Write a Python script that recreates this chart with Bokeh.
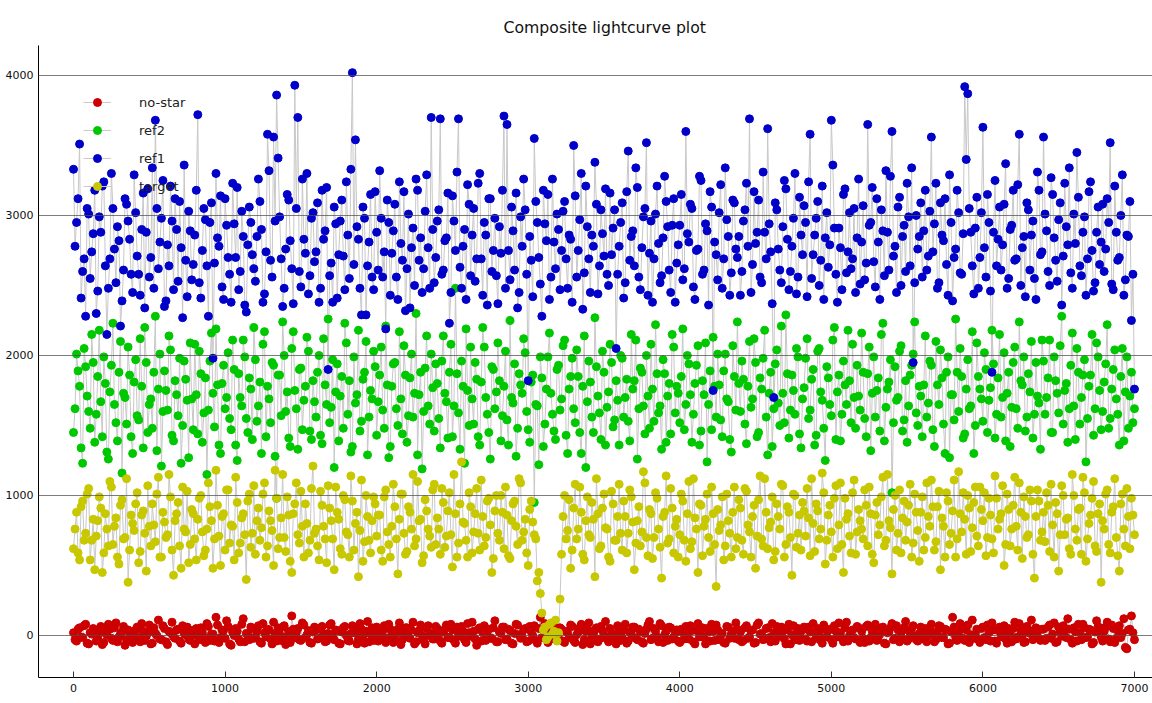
from bokeh.plotting import figure
from bokeh.models import Range1d, Legend, LegendItem, FixedTicker
from bokeh.embed import file_html
from bokeh.resources import INLINE

# The original light curves hold ~7000 frames each, far too dense to read one by one.
# Values below are estimates read off the picture, sampled every 10 frames:
# "a" lists at frames 0, 20, 40, ...  and "b" lists at frames 10, 30, 50, ...
a_start, b_start, step = 0, 10, 20

ref1_a = [
3330,2950,3510,2600,2280,3010,2740,3180,2460,2880,3240,2150,2690,3050,2520,2820,2390,3120,2960,2580,
3290,2710,2430,3160,2880,2560,3340,3680,2620,2980,2350,2790,3210,2470,2900,3100,2270,2680,3030,2540,
2860,3720,2410,3050,2640,2950,1980,3300,2780,2490,3120,2700,2380,2940,3200,2600,2850,2310,3060,2720,
2530,3260,2900,2440,3580,2680,3560,3860,2990,2350,2760,3110,2620,3930,3700,2490,2830,3300,2570,3020,
2740,2380,3180,2890,1900,2660,3060,2410,2960,2710,3240,2550,4020,3540,2830,2290,2980,2640,3150,2470,
2880,3320,2560,2190,2950,2730,3080,2400,2800,3170,2620,2340,2910,3260,2680,2450,3030,2770,3700,2520,
2960,3690,2610,2840,2230,3140,2750,3690,2480,2900,3220,2570,3050,2690,3300,2430,2860,3120,2600,2980,
2370,2730,3710,3650,2540,2890,3160,2450,2780,3040,1820,2680,3550,2950,2510,3180,2820,2400,3260,2620,
2900,2750,3100,2480,2830,3500,2560,2970,2330,3210,2690,2860,3380,2440,3040,2710,2580,3160,2910,2050,
2780,3090,2520,3460,2850,2640,3200,2470,2990,3520,2730,2380,3010,2800,2570,3280,2920,2450,3120,2660,
2930,2540,3600,2810,3050,2400,2760,3250,2610,2890,3170,1750,2720,3020,2480,3340,2850,2590,3090,2700,
2430,2960,3230,3690,2650,2800,3110,2520,2880,3620,2740,1700,3040,2610,2920,3190,2470,2780,3300,2560,
2860,3070,2420,3580,2720,2980,2500,3210,2840,2630,3680,2910,2380,2770,3150,2590,3020,2690,2450,3260,
2810,2540,3650,2950,2670,3120,2400,2890,3320,2610,3600,2780,3060,2500,2930,3230,2640,1950,3000,2850,
2560,3180,2710,3560,2940,2480,3090,2820,2650,3290,2390,2760,3020,2580,3920,3870,2880,2440,3130,2700,
3630,2560,2950,1880,3250,2830,2610,3080,2480,2900,3180,2690,3580,2770,2420,3040,2860,2550,3310,2720,
3560,2890,2500,3150,2680,2970,2360,3230,2790,2590,3010,3450,2640,2880,2430,3170,2750,2520,3060,2810,
2600,3120,3520,2470,2880,2700,3290,2540,2850,2250,1760]

ref1_b = [
2780,3120,2410,2690,3050,2550,2870,2300,2990,3210,2640,2480,3300,2760,2920,2210,2610,3080,2830,2450,
3020,2580,2900,2340,3190,2700,2480,3050,2810,3250,2390,2640,2960,3120,2530,2770,3360,2420,2890,2650,
3180,2520,2750,2970,2280,3090,2660,2840,3140,2400,2930,2580,3230,2700,2470,3030,2360,2790,2950,2620,
2850,3100,2380,2740,3320,2560,2960,3410,2690,2480,3150,2820,2370,3050,2600,3260,2730,2440,2980,2670,
3090,2480,2830,3200,2570,2380,2940,2720,3110,2470,2860,3330,2650,2920,2480,3060,2290,2810,2560,3170,
2610,2980,2740,3110,2430,2890,2560,3240,2680,2320,3010,2770,2500,3180,2840,2620,3290,2480,2900,2700,
3040,2580,2820,3160,2450,2960,3310,2630,2780,2400,3080,2860,2530,3230,2690,2950,2360,3120,2750,2570,
2920,3180,2480,2750,3060,2610,2340,2990,3260,2580,2850,2420,3100,2700,2280,2940,3150,2560,2810,3010,
2470,3030,2690,2860,2380,3140,2750,3300,2590,2920,2450,2780,3080,2640,2870,3190,2500,2720,3040,2580,
2950,2410,3170,2680,2890,3340,2560,2770,3050,2430,2960,2690,3210,2520,2840,3100,2610,2930,2380,2790,
3150,2620,2870,3080,2490,2750,3280,2580,2940,2360,3060,2810,2540,3220,2690,2970,2430,3110,2760,2850,
2600,3040,2780,2450,3170,2880,2560,3310,2690,2940,2370,3090,2760,2520,3250,2830,2600,2980,2440,3130,
2720,2950,3240,2550,2860,3100,2680,2400,3020,2790,3360,2580,2910,2470,3190,2740,2620,3050,2840,2510,
3070,2660,2930,3200,2490,2810,3040,2570,2880,3280,2710,2450,3130,2850,2600,2990,3340,2520,2760,3090,
2890,2610,3030,2740,3230,2520,2860,3120,2430,2950,2700,3180,2590,2870,3400,3050,2640,2910,2480,3020,
2770,3150,2460,2880,2640,3060,2790,3370,2550,2930,2680,3220,2500,2850,3090,2610,2960,2400,3180,2740,
3010,2600,3270,2840,2530,3090,2710,2920,3340,2480,2800,3130,2570,2990,2690,3240,2460,2880,2650,3080,
2760,2950,2510,3210,2680,3000,2430,2860,3100,2580]

ref2_a = [
1450,2010,1780,1230,1920,1600,2150,1380,1850,1670,1990,1310,1740,2230,1520,1880,1160,1700,2060,1420,
1810,1570,2120,1340,1950,1650,1480,2280,1760,1210,1890,1610,2040,1390,1720,1980,1500,1830,1270,1690,
2080,1440,1870,1590,1150,1960,1730,2190,1360,1800,1620,2020,1470,1900,1250,1700,2110,1550,1840,1400,
1970,1640,1300,2170,1780,1520,1930,980,1860,2240,1600,1410,2050,1750,1330,1910,1680,2130,1460,1820,
1560,2000,1370,1790,2260,1630,1200,1940,1710,1480,2090,1820,1350,1660,2180,1530,1880,1290,1750,2030,
1430,1860,1610,2210,1270,1780,1950,1500,1690,2070,1380,1840,1560,2300,1720,1190,1910,1640,2010,1460,
1800,1340,2140,1670,1880,1420,2480,1590,1960,1230,1750,2060,1510,1830,1360,2200,1700,1450,1920,1620,
2090,1390,1780,1540,2250,1660,1280,1870,1730,2020,1470,1810,950,1640,1990,1350,1760,2160,1580,1400,
1930,1690,2110,1300,1850,1620,2040,1450,1780,1200,1960,1560,2270,1710,1400,1880,1630,2080,1490,1820,
1360,1980,1700,1530,2150,1820,1260,1910,1640,2000,1480,1760,2220,1590,1330,1870,1710,1440,2060,1780,
1520,2190,1650,1940,1380,1800,2070,1460,1720,1240,1890,2130,1560,1790,1420,2010,1670,1310,1850,2240,
1600,1830,1370,2100,1690,1950,1450,1760,2180,1290,1880,1620,2040,1500,1730,2290,1410,1860,1580,1990,
1340,1770,2120,1610,1900,1430,2050,1680,1250,1840,1570,2200,1740,1390,1960,1650,1820,2080,1480,1710,
2160,1550,1870,1320,1990,1750,1460,2230,1630,1810,1020,1920,1700,2070,1540,1380,1860,2010,1590,1780,
1420,2140,1660,1930,1350,1790,2040,1510,1880,1270,1720,2260,1600,1850,1440,1970,1640,1300,2090,1760,
1530,1900,1680,2180,1410,1840,1560,2020,1730,1350,1950,1620,2240,1790,1460,1870,2100,1580,1710,1330,
1960,1700,2110,1450,1820,1590,2280,1750,1380,1930,1640,2050,1510,1860,1240,1780,2150,1620,1990,1470,
1810,2220,1550,1900,1690,1360,2050,1740,1480,1880,1620]

ref2_b = [
1620,1890,1340,2050,1710,1480,1950,1580,2180,1420,1800,1260,1930,1650,1390,2100,1730,1510,1860,1300,
1970,1540,1780,2200,1450,1690,1880,1320,2010,1600,1750,2140,1430,1820,1570,1230,1960,1680,2090,1470,
1720,2030,1380,1840,1610,2160,1490,1790,1300,1930,1700,1550,2110,1360,1870,1640,1990,1450,1760,2200,
1530,1810,2080,1420,1690,1950,1280,1860,1570,2000,1740,1350,2170,1620,1900,1470,1780,2030,1400,1670,
1880,1430,2120,1650,1520,1970,1740,1390,1850,2230,1580,1310,1990,1720,1460,1830,2100,1560,1690,1920,
1670,2060,1480,1790,1350,1940,1620,2170,1440,1860,1570,2010,1730,1290,1880,1600,2140,1510,1770,1940,
1550,1960,1730,1410,2080,1640,1870,1330,1780,2190,1500,1690,1950,1420,1810,2060,1580,1260,1900,1740,
1820,1570,2030,1360,1700,1940,1480,1790,2120,1600,1380,1860,1650,1220,1840,1510,1990,1730,1460,1900,
1610,2070,1430,1760,1980,1520,1850,1300,2140,1670,1810,1450,1920,1590,2030,1360,1740,1950,1540,1680,
2000,1560,1830,1390,1760,2110,1620,1880,1440,1710,2080,1530,1870,1640,1970,1380,1800,2150,1590,1730,
1850,1470,2000,1720,1580,1930,1360,1820,2090,1650,1470,1780,2010,1540,1890,1690,1400,2070,1610,1800,
1960,1510,1780,1630,2120,1420,1840,1980,1560,1730,1350,1940,1660,2210,1520,1870,1610,1750,2050,1440,
1690,1980,1550,1830,1360,2030,1740,1480,1920,1650,2110,1400,1860,1580,1790,2180,1520,1700,1930,1610,
1880,1420,2060,1730,1560,1840,2150,1390,1760,1970,1520,1680,2030,1460,1820,1640,1930,2240,1500,1710,
1790,1560,1960,1470,2100,1650,1840,1300,1990,1720,1540,1880,2050,1410,1760,1620,2170,1500,1850,1690,
2020,1450,1770,1940,1580,2150,1700,1390,1880,1630,2060,1480,1820,1990,1560,1740,1410,1950,1660,2110,
1580,1840,1450,1990,1730,2070,1510,1800,1620,2160,1400,1880,1700,1970,1550,1860,1430,2090,1750,1600,
1940,1480,1760,2040,1580,1850,1390,1990,1710,1520]

target_a = [
620,880,540,960,730,1050,680,470,820,910,590,760,1100,650,840,510,970,700,380,860,
750,1020,600,890,460,780,940,670,1130,560,810,720,990,430,870,640,1060,740,520,900,
690,830,1000,570,760,920,480,1180,710,850,610,1040,790,540,950,660,870,400,1010,730,
580,910,770,1090,640,820,500,980,700,1150,600,860,450,940,720,1030,560,800,680,1210,
760,540,930,690,1070,820,470,880,620,1000,740,560,960,800,420,1110,670,850,590,990,
710,860,530,1040,650,780,920,440,1010,730,600,880,1150,690,820,520,970,760,630,1080,
840,580,950,710,1020,490,870,660,1240,800,560,920,740,1050,610,850,700,980,450,890,
730,1000,620,860,550,940,780,1120,680,830,500,960,720,390,300,40,-30,80,10,110,
20,580,1000,750,480,910,690,1060,580,820,720,950,420,870,640,1010,760,530,940,680,
1080,610,850,730,990,470,820,640,1170,700,900,550,1020,760,410,880,660,1050,590,830,
720,960,530,1100,670,840,450,930,780,1010,600,870,350,750,990,640,820,560,1060,700,
910,580,1030,740,850,480,970,690,1120,620,810,540,940,760,1070,650,880,430,1000,730,
610,890,1050,570,800,940,690,1160,510,860,740,980,620,1090,450,830,710,1020,580,900,
760,1040,640,870,520,950,790,1130,680,820,440,1000,730,590,960,810,1080,660,880,530,
990,700,850,1110,610,920,470,780,1020,650,890,560,1170,740,830,1000,600,950,710,1060,
820,570,980,690,1140,760,870,500,1010,640,930,780,1090,550,850,720,960,410,1040,680,
880,1020,600,790,950,460,1070,720,840,580,1000,680,910,1130,530,800,980,640,870,380,
760,1040,590,920,700,460,1010,640,850,980,720]

target_b = [
760,590,920,680,1010,540,830,710,990,450,870,640,1060,780,560,930,690,1120,610,800,
940,520,860,730,1070,640,790,1010,560,880,700,1150,610,820,950,480,760,1030,650,870,
540,980,740,610,1090,820,690,930,500,870,1040,660,780,1130,590,840,720,960,630,1070,
820,680,1010,560,890,750,1180,620,840,700,990,530,870,1090,660,780,940,590,1050,730,
640,1030,780,520,910,690,1060,830,580,970,720,1140,610,880,750,530,1000,680,820,940,
860,610,990,740,560,1080,690,830,1010,580,920,760,640,1100,830,570,890,710,1040,650,
760,1050,630,890,720,1150,560,940,810,680,1020,590,870,730,1110,640,960,790,550,1000,
680,880,1060,570,820,960,650,1090,740,590,900,810,690,450,160,60,-10,90,30,-40,
260,850,690,970,610,1080,760,880,540,990,700,830,1120,620,910,770,560,1030,680,850,
730,960,590,1040,810,660,920,740,1090,570,870,700,980,630,850,1140,690,910,780,560,
1010,680,870,620,1120,760,940,570,830,700,1060,650,900,790,540,1010,730,880,620,970,
680,1050,790,560,930,710,1140,640,880,770,990,600,850,1080,560,920,700,1010,630,860,
950,710,840,1120,600,890,760,1020,680,930,560,1070,790,650,980,870,590,1110,740,820,
690,930,1060,580,860,720,990,640,1150,770,900,610,1040,840,680,930,560,1010,750,880,
610,1090,780,920,670,1030,840,560,960,730,1110,690,870,1020,580,910,770,1060,640,900,
1020,700,860,590,980,830,1070,650,900,760,1130,610,880,990,700,1040,580,850,960,740,
670,930,1080,560,870,720,1000,830,620,1150,760,900,580,1020,690,860,1100,600,940,820,
1010,650,880,1120,570,940,760,1050,620,860]

no_star_a = [
20,-40,55,-15,80,-60,10,35,-25,65,-50,5,45,-35,90,-10,25,-70,40,0,
-20,60,-45,30,-5,75,-55,15,110,-30,50,-65,20,-10,40,-40,70,5,-25,35,
-60,25,55,-15,85,-35,10,130,-50,40,-20,65,-70,0,30,-45,120,15,-30,50,
-10,70,-55,20,45,-25,95,-40,10,60,-65,30,140,-15,50,-35,75,5,-50,25,
40,-20,65,-45,15,85,-30,35,-60,55,0,-40,70,20,-25,45,-55,100,10,-35,
60,-10,30,-50,80,5,-30,45,-65,20,55,-20,95,-45,35,0,-60,70,15,-25,
50,-40,25,75,-15,40,-55,10,65,-30,85,-5,30,-70,55,20,-35,45,-20,105,
-45,15,60,-25,35,-60,80,5,-10,50,-40,25,70,-55,130,-15,40,-30,10,60,
-20,45,-50,20,75,-35,5,55,-65,30,90,-10,40,-45,65,0,-25,50,15,-60,
35,-15,80,-40,10,60,-30,25,-55,45,100,-20,30,-45,70,5,-35,55,-10,40,
-50,20,65,-25,35,-60,85,0,-15,50,-40,30,75,-30,15,-55,60,10,-20,45,
25,-35,70,-10,40,-50,90,15,-25,55,-45,20,65,-5,30,-60,80,5,-30,50,
-15,60,-40,25,85,-20,10,-55,45,35,-30,70,-10,20,-45,95,0,40,-25,55,
30,-50,75,-15,45,-35,10,60,-60,25,85,-20,40,-5,55,-40,20,70,-30,15,
-25,50,0,80,-45,30,65,-15,40,-55,130,-10,25,55,-35,75,5,-20,45,-50,
60,-30,20,90,-40,35,-10,70,-55,15,50,-25,85,0,-45,40,110,-15,30,-35,
45,-20,75,10,-50,60,-5,35,120,-30,55,-40,20,80,-15,45,-60,25,65,-10,
30,95,-45,50,-20,70,15,-85,40,140,-30]

no_star_b = [
-30,45,-10,70,-55,20,50,-40,15,-65,35,80,-20,55,-45,10,65,-30,25,-50,
40,-15,85,-35,20,-60,55,0,-25,70,-45,30,95,-20,45,-55,15,60,-35,5,
50,-30,20,-50,65,10,-40,75,-15,35,105,-60,25,50,-25,80,-45,5,60,-20,
30,-45,85,-10,40,-60,15,55,-35,70,-5,-50,45,20,-30,90,-15,35,-55,60,
-25,50,10,-40,75,-15,40,-55,25,65,-35,15,50,-60,85,-5,30,-45,55,5,
-40,35,70,-20,45,-50,15,90,-30,55,-10,40,-60,20,75,-35,50,0,-25,65,
10,-55,45,-15,80,-35,60,-5,30,-50,20,95,-25,45,-40,70,5,-20,55,-45,
25,60,-30,45,-55,15,75,-20,40,-45,65,0,-35,50,-15,85,-50,20,40,-25,
55,-40,30,-15,65,-50,25,80,-30,45,-60,10,55,-25,35,100,-45,15,-10,70,
-35,40,-55,25,60,-20,45,-45,15,75,-30,50,-10,85,-50,30,60,-25,20,-40,
45,-25,15,70,-45,35,-10,55,-60,25,80,-35,40,0,-50,65,-20,30,90,-30,
-45,55,-20,35,-55,75,10,-30,50,-15,85,-40,25,60,-25,40,-60,70,15,-35,
40,-25,60,-45,20,50,-35,75,-10,45,-55,30,90,-20,55,-40,25,-15,65,-50,
-20,65,-40,30,80,-10,45,-55,20,55,-30,70,-45,35,100,-25,50,-5,-40,60,
35,-45,55,15,-30,70,-15,45,-60,25,60,-35,85,-20,40,-50,110,10,-30,50,
-15,75,-40,40,-55,60,20,-25,50,-45,95,-10,35,-50,65,15,-30,55,-20,45,
-35,60,-20,90,-45,30,70,-15,45,-55,25,80,-30,55,-10,40,-50,105,20,-40,
60,-25,75,-50,35,-15,120,-95,45,20]

series_names = ["no-star", "ref2", "ref1", "target"]
series_a = [no_star_a, ref2_a, ref1_a, target_a]
series_b = [no_star_b, ref2_b, ref1_b, target_b]
series_colors = ["#cc0000", "#00c800", "#0000c8", "#c8c800"]
x_ticks = [0, 1000, 2000, 3000, 4000, 5000, 6000, 7000]
y_ticks = [0, 1000, 2000, 3000, 4000]

FONT = "DejaVu Sans"

p = figure(width=1152, height=703, output_backend="svg", toolbar_location=None,
           x_range=Range1d(-231, 7119), y_range=Range1d(-300, 4214),
           title="Composite lightcurve plot",
           min_border_left=38, min_border_right=0, min_border_top=45, min_border_bottom=26)

p.title.align = "left"
p.title.offset = 465
p.title.standoff = 17
p.title.text_font = FONT
p.title.text_font_size = "15.7px"
p.title.text_font_style = "normal"
p.title.text_color = "#111111"

p.outline_line_color = None
p.background_fill_color = "white"
p.border_fill_color = "white"

p.xgrid.visible = False
p.ygrid.ticker = FixedTicker(ticks=y_ticks)
p.ygrid.grid_line_color = "#505050"
p.ygrid.grid_line_alpha = 0.75
p.ygrid.level = "overlay"

p.xaxis.ticker = FixedTicker(ticks=x_ticks)
p.yaxis.ticker = FixedTicker(ticks=y_ticks)
for ax in (p.xaxis[0], p.yaxis[0]):
    ax.axis_line_color = "black"
    ax.major_label_text_font = FONT
    ax.major_label_text_font_size = "11px"
    ax.major_label_text_color = "#111111"
    ax.minor_tick_line_color = None
p.xaxis.major_tick_in = 6
p.xaxis.major_tick_out = 0
p.xaxis.major_tick_line_color = "#333333"
p.xaxis.major_label_standoff = 6
p.yaxis.major_tick_in = 0
p.yaxis.major_tick_out = 0
p.yaxis.major_tick_line_color = None
p.yaxis.major_label_standoff = 5

merged = []
for a, b in zip(series_a, series_b):
    pts = [(a_start + i * step, v) for i, v in enumerate(a)] + \
          [(b_start + i * step, v) for i, v in enumerate(b)]
    pts.sort()
    merged.append(([q[0] for q in pts], [q[1] for q in pts]))

for xs, ys in merged:
    p.line(xs, ys, line_color="#c8c8c8", line_width=1)

for (xs, ys), col in zip(merged, series_colors):
    p.scatter(xs, ys, size=8, fill_color=col, line_color=col, marker="circle")

legend_items = []
for name, col in zip(series_names, series_colors):
    lr = p.line([0], [0], line_color="#d0c8c8", line_width=1, visible=False)
    dr = p.scatter([0], [0], size=5, fill_color=col, line_color=col, visible=False)
    legend_items.append(LegendItem(label=name, renderers=[lr, dr]))

legend = Legend(items=legend_items, location=(45, 481), margin=0, padding=0,
                glyph_width=28, glyph_height=20, spacing=8, label_standoff=28,
                label_text_font=FONT, label_text_font_size="13px",
                label_text_color="#222222",
                background_fill_alpha=0, border_line_color=None)
legend.level = "underlay"
p.add_layout(legend)

open("out.html", "w").write(file_html(p, INLINE))
